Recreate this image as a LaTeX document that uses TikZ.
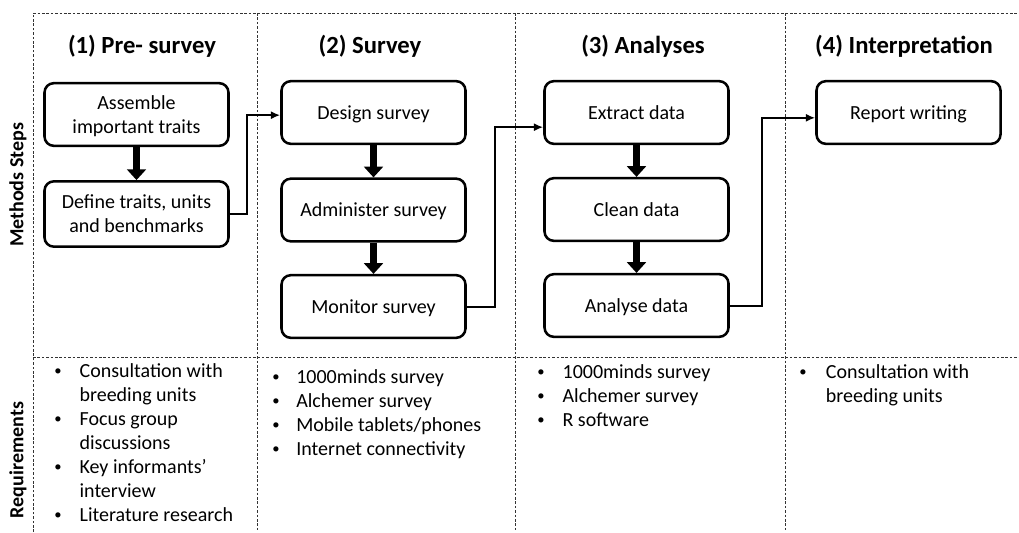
\documentclass[tikz,border=0pt]{standalone}
\usepackage{fontspec}
\setmainfont{Carlito}
\usetikzlibrary{arrows.meta}

% small bullet for the requirement lists
\newcommand{\reqbullet}{\raisebox{0.15ex}{\fontsize{11}{12}\selectfont\textbullet}}

\tikzset{
  stepbox/.style={draw, line width=1.9pt, rounded corners=7pt,
    minimum width=138pt, minimum height=47pt, inner sep=2pt,
    text depth=0pt, align=center, font=\fontsize{15}{18}\selectfont},
  bigarrow/.style={line width=5pt, -{Triangle[length=8pt,width=14pt]}},
  link/.style={line width=1.5pt, -{Latex[length=7pt,width=6pt]}},
  sep/.style={black!80, line width=0.6pt, dash pattern=on 2pt off 1.3pt},
  coltitle/.style={anchor=base, font=\fontsize{18.5}{22}\selectfont\bfseries},
  rowlabel/.style={rotate=90, font=\fontsize{15}{18}\selectfont\bfseries},
  reqlist/.style={anchor=base west, inner sep=0pt, font=\fontsize{15}{18}\selectfont},
}

\begin{document}
\begin{tikzpicture}[x=0.75pt, y=-0.75pt]
    \useasboundingbox (0,0) rectangle (1019,532);

    % dashed frame and separators
    \draw[sep] (33,532) -- (33,13) -- (1019,13);
    \foreach \x in {257,515,785} {
        \draw[sep] (\x,13) -- (\x,532);
    }
    \draw[sep] (33,357) -- (1019,357);

    % row labels
    \node[rowlabel] (methods) at (18,185) {Methods Steps};
    \node[rowlabel] (requirements) at (18,460) {Requirements};

    % column titles
    \node[coltitle] (t1) at (142,53) {(1) Pre- survey};
    \node[coltitle] (t2) at (370,53) {(2) Survey};
    \node[coltitle] (t3) at (643,53) {(3) Analyses};
    \node[coltitle] (t4) at (904,53) {(4) Interpretation};

    % (1) pre-survey
    \node[stepbox] (assemble) at (136.5,114.5) {Assemble\\important traits};
    \node[stepbox, minimum height=49pt] (define) at (136.5,214) {Define traits, units\\and benchmarks};
    \draw[bigarrow] (assemble) -- (define);

    % (2) survey
    \node[stepbox] (design) at (373.5,112.5) {Design survey};
    \node[stepbox] (administer) at (373.5,210) {Administer survey};
    \node[stepbox] (monitor) at (373.5,306.5) {Monitor survey};
    \draw[bigarrow] (design) -- (administer);
    \draw[bigarrow] (administer) -- (monitor);

    % (3) analyses
    \node[stepbox] (extract) at (636.5,112.5) {Extract data};
    \node[stepbox] (clean) at (636.5,209.5) {Clean data};
    \node[stepbox] (analyse) at (636.5,305.5) {Analyse data};
    \draw[bigarrow] (extract) -- (clean);
    \draw[bigarrow] (clean) -- (analyse);

    % (4) interpretation
    \node[stepbox] (report) at (908.5,112.5) {Report writing};

    % links between the stages
    \draw[link] (define.east) -- ++(17,0) |- ([yshift=-2pt]design.west);
    \draw[link] (monitor.east) -- ++(28,0) |- ([yshift=-11pt]extract.west);
    \draw[link] (analyse.east) -- ++(32,0) |- ([yshift=-4pt]report.west);

    % requirements
    \node[reqlist] (req1) at (54,377) {\begin{tabular}[t]{@{}p{19pt}@{}l@{}}
        \reqbullet & Consultation with\\
                   & breeding units\\
        \reqbullet & Focus group\\
                   & discussions\\
        \reqbullet & Key informants’\\
                   & interview\\
        \reqbullet & Literature research
    \end{tabular}};
    \node[reqlist] (req2) at (272,383) {\begin{tabular}[t]{@{}p{18pt}@{}l@{}}
        \reqbullet & 1000minds survey\\
        \reqbullet & Alchemer survey\\
        \reqbullet & Mobile tablets/phones\\
        \reqbullet & Internet connectivity
    \end{tabular}};
    \node[reqlist] (req3) at (537,378) {\begin{tabular}[t]{@{}p{19pt}@{}l@{}}
        \reqbullet & 1000minds survey\\
        \reqbullet & Alchemer survey\\
        \reqbullet & R software
    \end{tabular}};
    \node[reqlist] (req4) at (799,378) {\begin{tabular}[t]{@{}p{20pt}@{}l@{}}
        \reqbullet & Consultation with\\
                   & breeding units
    \end{tabular}};
\end{tikzpicture}
\end{document}
